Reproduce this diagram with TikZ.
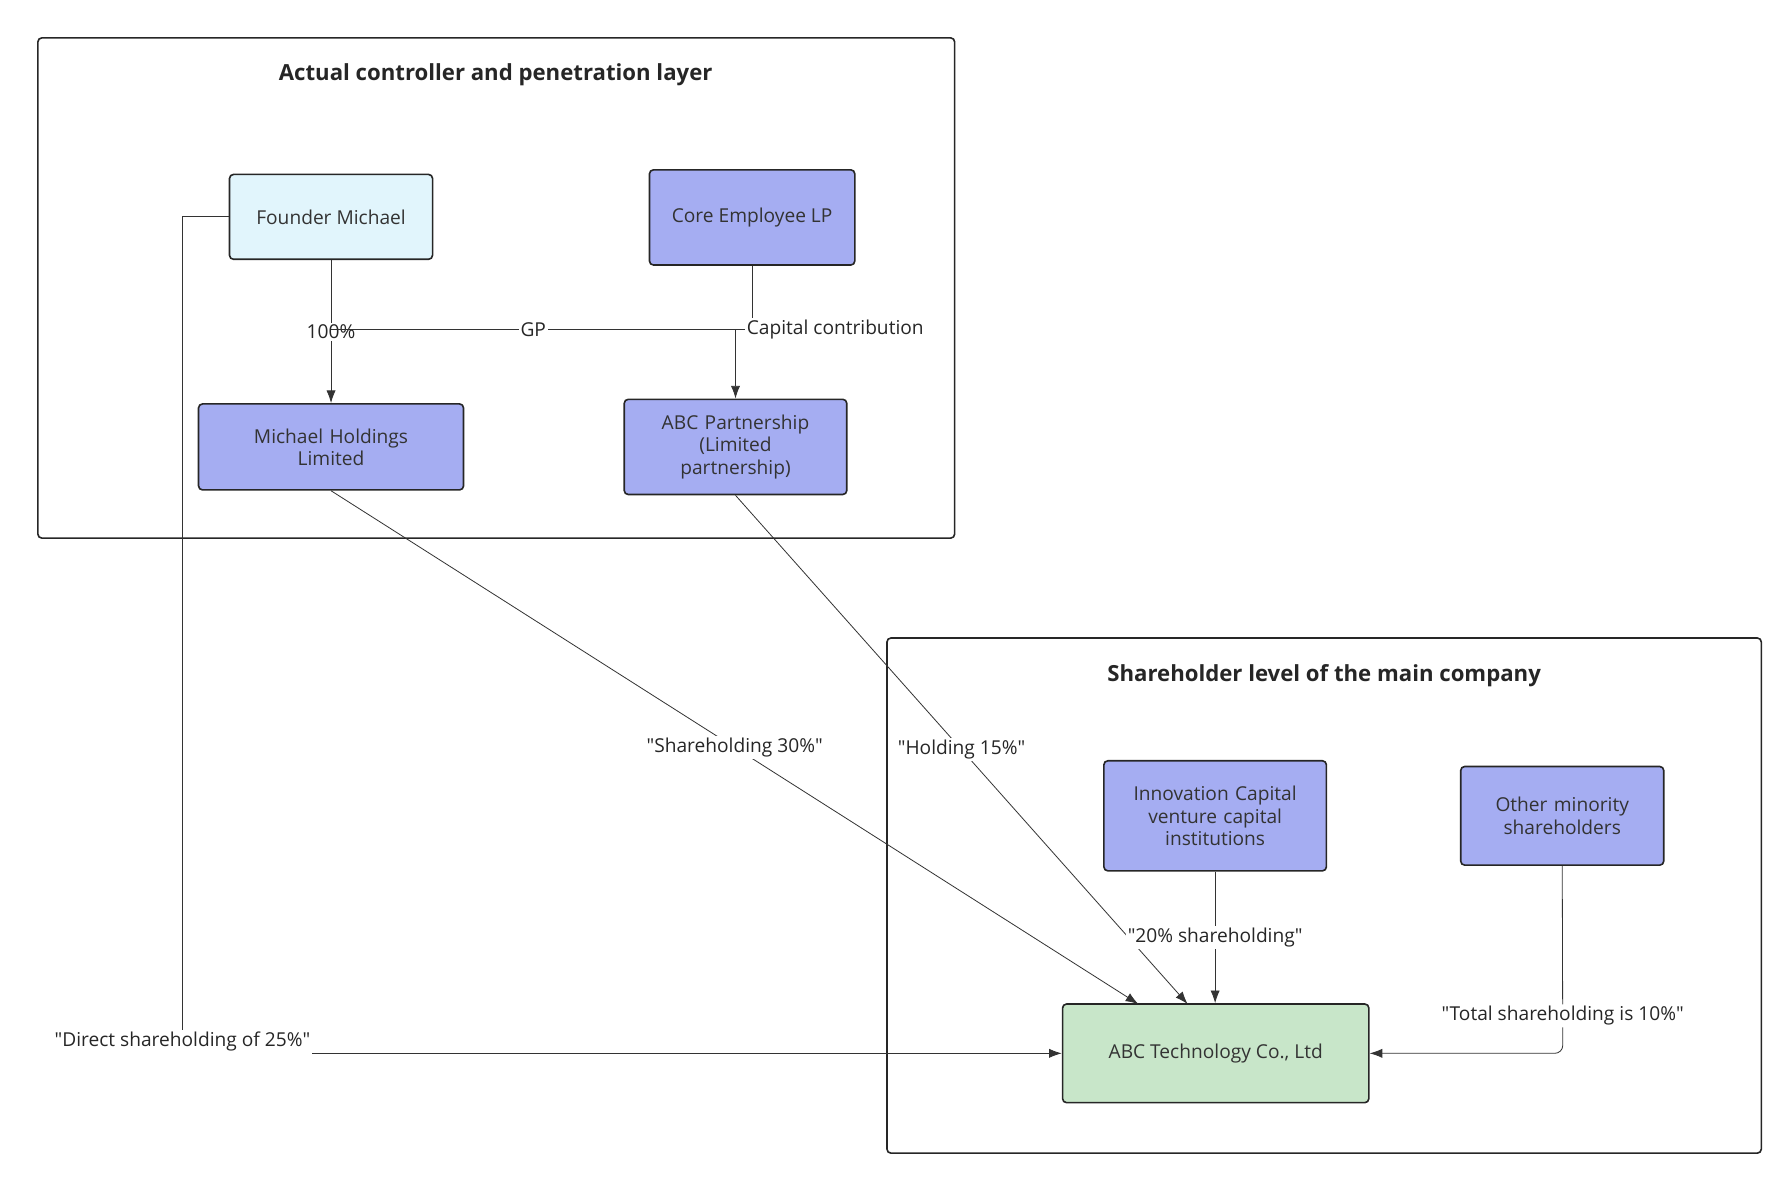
\documentclass[tikz,border=0pt]{standalone}
\usepackage{fontspec}
\setmainfont{Open Sans}[Ligatures=TeXOff]
\usetikzlibrary{calc, arrows.meta}

\begin{document}
\begin{tikzpicture}[x=0.02cm, y=-0.02cm, font=\fontsize{9.5}{11}\selectfont,
  box/.style={draw=black!85, thick, rounded corners=2pt, align=center, text=black!80},
  ent/.style={box, fill={rgb,255:red,165;green,173;blue,242}},
  link/.style={draw=black!80, -{Latex[length=2.2mm,width=1.6mm]}},
  lbl/.style={fill=white, inner sep=1pt, text=black!85}]
  \useasboundingbox (0,0) rectangle (1560,1033);

  % groups
  \draw[thick, draw=black!85, rounded corners=2pt] (33,33) rectangle (832,469);
  \node[font=\fontsize{11}{13}\selectfont\bfseries, text=black!85] (t1) at (432,65) {Actual controller and penetration layer};
  \draw[thick, draw=black!85, rounded corners=2pt] (773,556) rectangle (1535,1005);
  \node[font=\fontsize{11}{13}\selectfont\bfseries, text=black!85] (t2) at (1154,589) {Shareholder level of the main company};

  % entities
  \node[box, fill={rgb,255:red,225;green,245;blue,252}, minimum width=3.54cm, minimum height=1.48cm] (founder) at (288.5,189) {Founder Michael};
  \node[ent, minimum width=3.58cm, minimum height=1.66cm] (core) at (655.5,189.5) {Core Employee LP};
  \node[ent, minimum width=4.62cm, minimum height=1.5cm, text width=4.2cm] (mhold) at (288.5,389.5) {Michael Holdings\\Limited};
  \node[ent, minimum width=3.88cm, minimum height=1.66cm, text width=3.5cm] (abcp) at (641,389.5) {ABC Partnership\\(Limited\\partnership)};
  \node[ent, minimum width=3.88cm, minimum height=1.92cm, text width=3.5cm] (innov) at (1059,711) {Innovation Capital\\venture capital\\institutions};
  \node[ent, minimum width=3.54cm, minimum height=1.72cm, text width=3.2cm] (other) at (1361.5,711) {Other minority\\shareholders};
  \node[box, fill={rgb,255:red,200;green,230;blue,201}, minimum width=5.34cm, minimum height=1.72cm] (abct) at (1059.5,918) {ABC Technology Co., Ltd};

  \coordinate (gp) at (641,287);
  \coordinate (bend) at (159,918);

  % connectors
  \draw[link] (founder) -- node[lbl] {100\%} (mhold);
  \draw[draw=black!80] (founder.south |- gp) -- node[lbl] {GP} (gp);
  \draw[draw=black!80] (core.south) |- node[lbl, pos=0.55, anchor=west, xshift=-3pt] {Capital contribution} (gp);
  \draw[link] (gp) -- (abcp.north -| gp);
  \draw[link] (founder.west) -| (bend) -- (abct.west);
  \node[lbl] (direct) at (159,908) {"Direct shareholding of 25\%"};
  \draw[link] (mhold.south) -- node[lbl, pos=0.5] {"Shareholding 30\%"} (992,875);
  \draw[link] (abcp.south) -- node[lbl, pos=0.5] {"Holding 15\%"} (1035,875);
  \draw[link] (innov.south) -- node[lbl] {"20\% shareholding"} (abct.north -| innov.south);
  \draw[link, rounded corners=4pt] (other.south) -- node[lbl, pos=0.8] {"Total shareholding is 10\%"} (1362,918) -- (abct.east);
\end{tikzpicture}
\end{document}
